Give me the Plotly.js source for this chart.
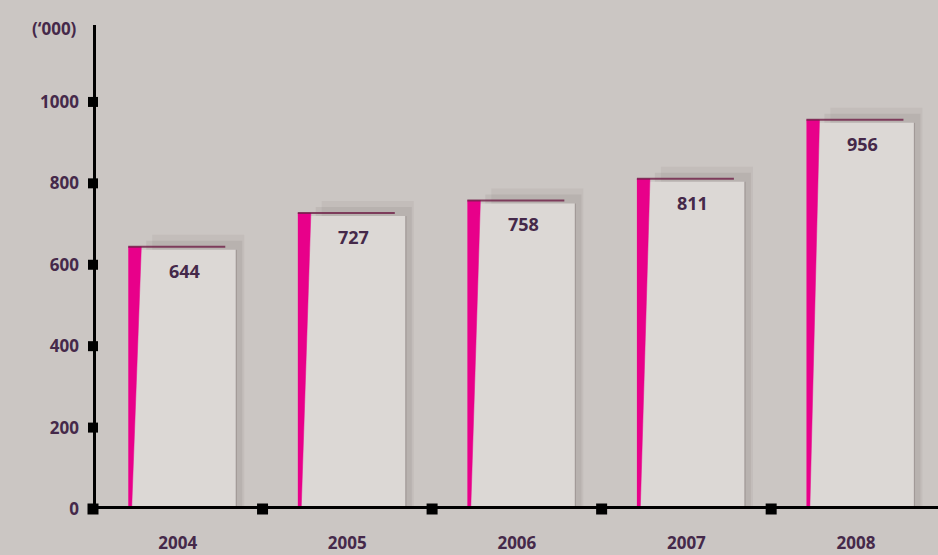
<!DOCTYPE html>
<html>
<head>
<meta charset="utf-8">
<script src="https://cdn.plot.ly/plotly-3.0.1.min.js"></script>
<style>
html,body{margin:0;padding:0;background:#cbc6c3;}
#chart{width:938px;height:555px;}
</style>
</head>
<body>
<div id="chart"></div>
<script>
// ---- data ----
const years = ['2004', '2005', '2006', '2007', '2008'];
const values = [644, 727, 758, 811, 956];
const yTickVals = [0, 200, 400, 600, 800, 1000];
const yTickText = ['0', '200', '400', '600', '800', '1000'];
const unitLabel = "(‘000)";

// ---- style constants (in axis units) ----
const FONT = '"Open Sans", Lato, sans-serif';
const TXT = '#45294a';
const FACE = '#dcd8d5';
const MAG = '#e8008a';
const faceL = -0.292, faceR = 0.345;
const wedgeTop = 0.077, wedgeBot = 0.02;
const pxX = 169.6, pxY = 0.407;

const idx = years.map((_, i) => i);

// soft shadows behind each card
const shadowA = {
  type: 'bar', x: idx, y: values.map(v => v + 12 / pxY),
  base: 0, width: faceR - faceL - 16 / pxX, offset: faceL + 24 / pxX,
  marker: {color: 'rgba(70,55,55,0.06)', line: {width: 0}},
  hoverinfo: 'skip', showlegend: false
};
const shadowB = {
  type: 'bar', x: idx, y: values.map(v => v + 6 / pxY),
  base: 0, width: faceR - faceL - 12 / pxX, offset: faceL + 18 / pxX,
  marker: {color: 'rgba(70,55,55,0.08)', line: {width: 0}},
  hoverinfo: 'skip', showlegend: false
};
// the card face
const face = {
  type: 'bar', x: idx, y: values.map(v => v - 3 / pxY),
  base: 0, width: faceR - faceL, offset: faceL,
  marker: {color: FACE, line: {width: 0}},
  hoverinfo: 'skip', showlegend: false
};
// right edge line of each card
const edgeX = [], edgeY = [];
idx.forEach((i, k) => { edgeX.push(i + faceR, i + faceR, null); edgeY.push(0, values[k] - 3 / pxY, null); });
const edge = {
  type: 'scatter', mode: 'lines', x: edgeX, y: edgeY,
  line: {color: 'rgba(130,120,118,0.55)', width: 1.2},
  hoverinfo: 'skip', showlegend: false
};
// magenta wedge on left
const wx = [], wy = [];
idx.forEach((i, k) => {
  wx.push(i + faceL, i + faceL + wedgeTop, i + faceL + wedgeBot, i + faceL, null);
  wy.push(values[k], values[k], 0, 0, null);
});
const wedge = {
  type: 'scatter', mode: 'lines', x: wx, y: wy, fill: 'toself',
  fillcolor: MAG, line: {color: MAG, width: 0.5},
  hoverinfo: 'skip', showlegend: false
};
// dark top fold line
const tx = [], ty = [];
idx.forEach((i, k) => { tx.push(i + faceL, i + faceR - 11 / pxX, null); ty.push(values[k], values[k], null); });
const topLine = {
  type: 'scatter', mode: 'lines', x: tx, y: ty,
  line: {color: 'rgba(110,30,70,0.8)', width: 2},
  hoverinfo: 'skip', showlegend: false
};
// tick squares
const yTicks = {
  type: 'scatter', mode: 'markers', x: yTickVals.map(() => -0.5), y: yTickVals,
  marker: {symbol: 'square', size: 10, color: '#000'}, cliponaxis: false,
  hoverinfo: 'skip', showlegend: false
};
const xTickPos = years.map((_, i) => i - 0.5).concat([years.length - 0.5]);
const xTicks = {
  type: 'scatter', mode: 'markers', x: xTickPos, y: xTickPos.map(() => 0),
  marker: {symbol: 'square', size: 11, color: '#000'}, cliponaxis: false,
  hoverinfo: 'skip', showlegend: false
};

const annotations = values.map((v, i) => ({
  x: i + (faceL + faceR) / 2 + 2 / pxX, y: v, xref: 'x', yref: 'y',
  text: String(v), showarrow: false, yshift: -24,
  font: {family: FONT, size: 18, color: TXT, weight: 700}
}));
annotations.push({
  xref: 'paper', yref: 'paper', x: -0.016, y: 1.0, xanchor: 'right', yanchor: 'bottom',
  yshift: -17, text: unitLabel, showarrow: false,
  font: {family: FONT, size: 17, color: TXT, weight: 700}
});

const layout = {
  width: 938, height: 555,
  margin: {l: 93, r: 0, t: 25, b: 46},
  paper_bgcolor: '#cbc6c3', plot_bgcolor: '#cbc6c3',
  barmode: 'overlay',
  xaxis: {
    range: [-0.5, 4.484], tickvals: idx, ticktext: years,
    showgrid: false, zeroline: false, showline: false, ticks: '',
    tickfont: {family: FONT, size: 17, color: TXT, weight: 700},
    ticklabelstandoff: 22, fixedrange: true
  },
  yaxis: {
    range: [0, 1189], tickvals: yTickVals, ticktext: yTickText,
    showgrid: false, zeroline: false, showline: false, ticks: '',
    tickfont: {family: FONT, size: 17, color: TXT, weight: 700},
    ticklabelstandoff: 13, fixedrange: true
  },
  shapes: [
    {type: 'line', xref: 'paper', yref: 'y', x0: 0, x1: 1, y0: 0, y1: 0, line: {color: '#000', width: 6}, layer: 'above'},
    {type: 'line', xref: 'x', yref: 'paper', x0: -0.5, x1: -0.5, y0: 0, y1: 1, line: {color: '#000', width: 6}, layer: 'above'}
  ],
  annotations: annotations,
  showlegend: false
};

Plotly.newPlot('chart', [shadowA, shadowB, face, edge, wedge, topLine, yTicks, xTicks], layout, {displayModeBar: false, staticPlot: true});
</script>
</body>
</html>
